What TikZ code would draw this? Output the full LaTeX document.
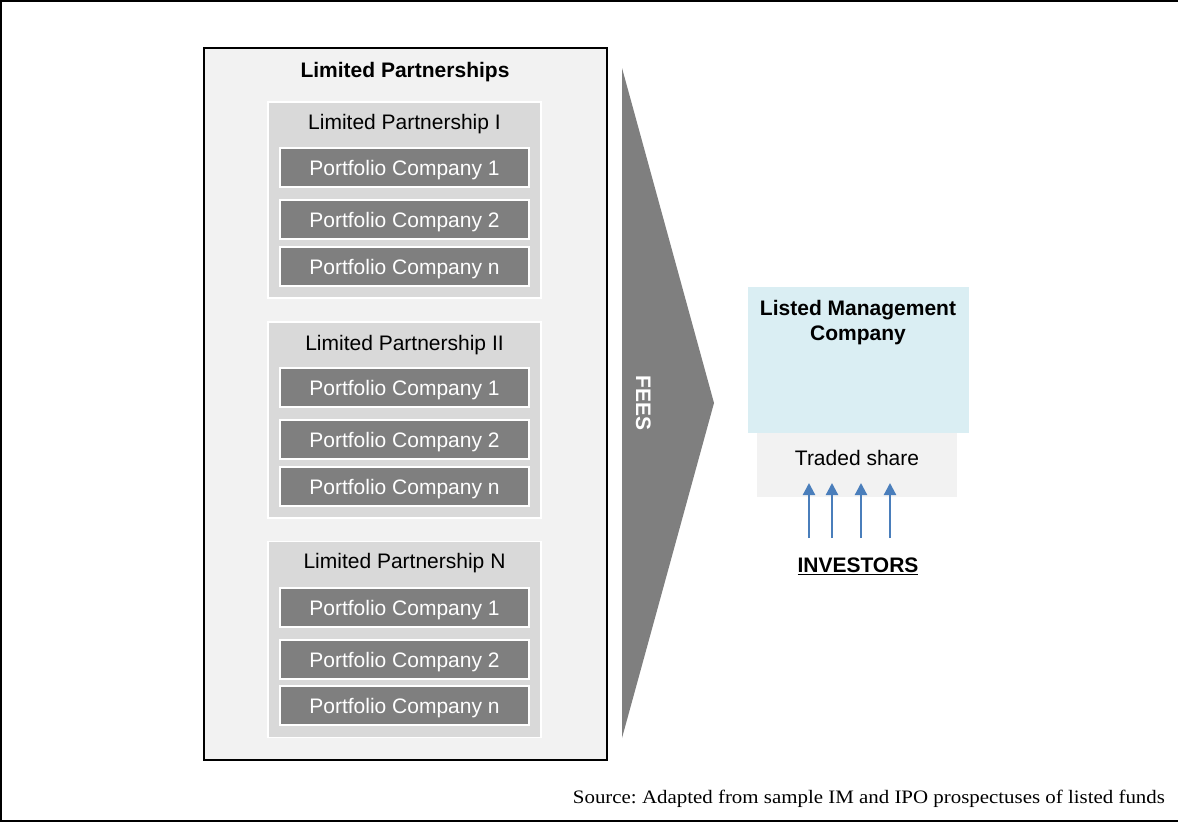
\documentclass[tikz,border=0pt]{standalone}
\usepackage{fontspec}
\setmainfont{Liberation Sans}
\newfontfamily\srcfont[FakeStretch=1.1]{Liberation Serif}
\usetikzlibrary{arrows.meta}
\definecolor{outerbg}{HTML}{F2F2F2}
\definecolor{lpbg}{HTML}{D9D9D9}
\definecolor{pcbg}{HTML}{7F7F7F}
\definecolor{lmcbg}{HTML}{DAEEF3}
\definecolor{arrowblue}{HTML}{4A7EBB}
\tikzset{
  box/.style={rectangle, inner sep=0pt, outer sep=0pt},
  txt/.style={box, text height=15pt, text depth=0pt, font=\fontsize{21}{25}\selectfont},
  lpbox/.style={box, fill=lpbg, draw=white, line width=1.5pt, minimum width=273pt, minimum height=196pt},
  pcbox/.style={txt, fill=pcbg, draw=white, line width=2pt, minimum width=249pt, minimum height=39pt,
     text=white},
  invarrow/.style={draw=arrowblue, line width=2.2pt, -{Triangle[width=12pt,length=12pt]}},
}
\begin{document}
\frenchspacing
\begin{tikzpicture}[x=1pt,y=-1pt]
\useasboundingbox (0,0) rectangle (1178,822);
% outer frame
\draw[line width=2pt] (1178,1) -- (1,1) -- (1,820.5) -- (1178,820.5);
% LP container
\node[box, fill=outerbg, draw=black, line width=2pt, minimum width=403pt, minimum height=712pt] (lps) at (405.5,404) {};
\node[txt, font=\bfseries\fontsize{21}{25}\selectfont] (lpstitle) at (405,69.5) {Limited Partnerships};
% LP I
\node[lpbox] (lp1) at (404.5,200) {};
\node[txt] (lp1t) at (404.5,122) {Limited Partnership I};
\node[pcbox] (lp1a) at (404.5,167.5) {Portfolio Company 1};
\node[pcbox] (lp1b) at (404.5,219.5) {Portfolio Company 2};
\node[pcbox] (lp1c) at (404.5,266.5) {Portfolio Company n};
% LP II
\node[lpbox] (lp2) at (404.5,420) {};
\node[txt] (lp2t) at (404.5,343) {Limited Partnership II};
\node[pcbox] (lp2a) at (404.5,387.5) {Portfolio Company 1};
\node[pcbox] (lp2b) at (404.5,439.5) {Portfolio Company 2};
\node[pcbox] (lp2c) at (404.5,486.5) {Portfolio Company n};
% LP N
\node[lpbox] (lp3) at (404.5,639.5) {};
\node[txt] (lp3t) at (404.5,561) {Limited Partnership N};
\node[pcbox] (lp3a) at (404.5,607.5) {Portfolio Company 1};
\node[pcbox] (lp3b) at (404.5,659.5) {Portfolio Company 2};
\node[pcbox] (lp3c) at (404.5,705.5) {Portfolio Company n};
% FEES chevron
\fill[pcbg] (622,68) -- (714,403) -- (622,738) -- cycle;
\node[txt, rotate=-90, text=white, font=\bfseries\fontsize{21}{25}\selectfont] (fees) at (643.5,403) {FEES};
% Listed management company
\node[box, fill=lmcbg, minimum width=221pt, minimum height=146pt] (lmc) at (858.5,360) {};
\node[box, anchor=base, font=\bfseries\fontsize{21}{25}\selectfont] (lmct1) at (858,315) {Listed Management};
\node[box, anchor=base, font=\bfseries\fontsize{21}{25}\selectfont] (lmct2) at (858,340) {Company};
\node[box, fill=outerbg, minimum width=200pt, minimum height=64pt] (ts) at (857,465) {};
\node[box, anchor=base, font=\fontsize{21}{25}\selectfont] (tst) at (857,465) {Traded share};
% investors
\node[box, anchor=base, font=\bfseries\fontsize{21}{25}\selectfont] (inv) at (858,572.5) {\underline{INVESTORS}};
\foreach \i/\x in {1/809,2/832,3/861,4/890}{
  \coordinate (s\i) at (\x,538);
  \coordinate (e\i) at (\x,483);
  \draw[invarrow] (s\i) -- (e\i);
}
% source
\node[box, anchor=base east, font=\srcfont\fontsize{19}{22}\selectfont] (src) at (1165,803) {Source: Adapted from sample IM and IPO prospectuses of listed funds};
\end{tikzpicture}
\end{document}
